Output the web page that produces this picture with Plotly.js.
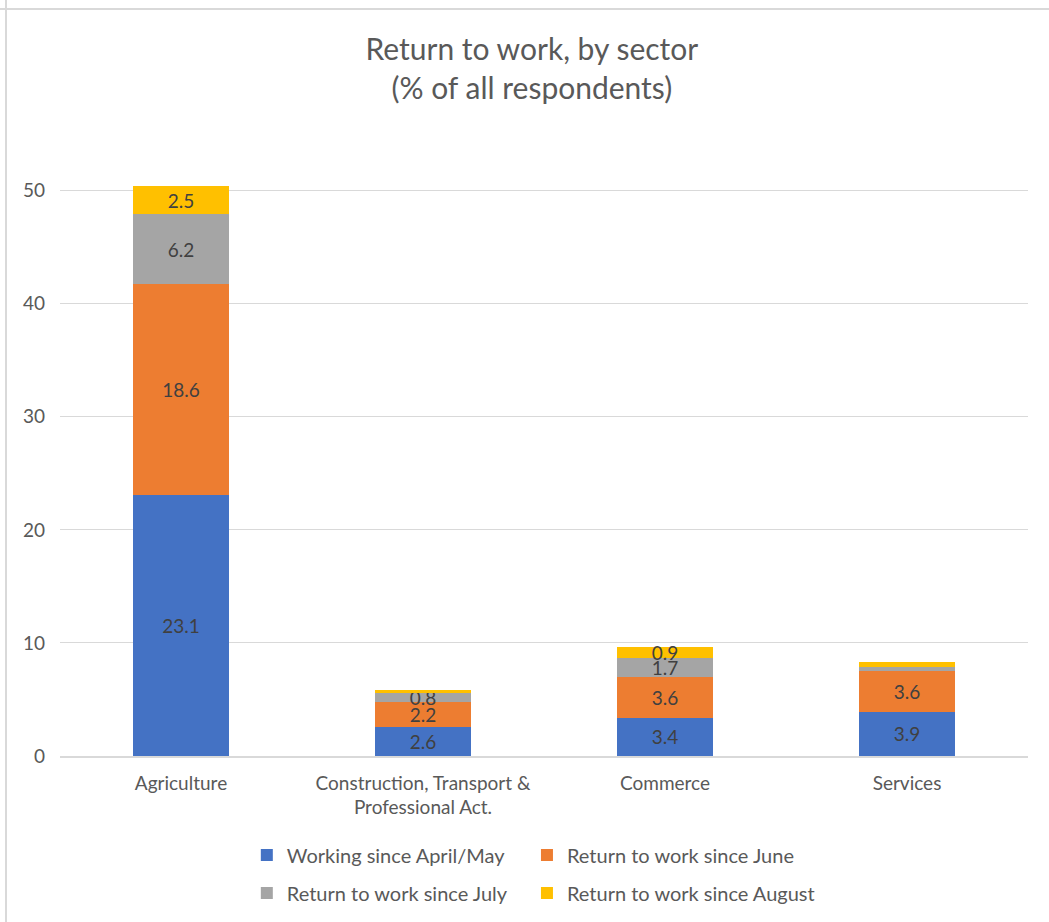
<!DOCTYPE html>
<html>
<head>
<meta charset="utf-8">
<script src="https://cdn.plot.ly/plotly-3.0.1.min.js"></script>
<style>html,body{margin:0;padding:0;background:#fff;}#chart{width:1049px;height:922px;}</style>
</head>
<body>
<div id="chart"></div>
<script>
const categories = ["Agriculture", "Construction, Transport &<br>Professional Act.", "Commerce", "Services"];
const seriesNames = ["Working since April/May", "Return to work since June", "Return to work since July", "Return to work since August"];
const working = [23.1, 2.6, 3.4, 3.9];
const june = [18.6, 2.2, 3.6, 3.6];
const july = [6.2, 0.8, 1.7, 0.4];
const august = [2.5, 0.2, 0.9, 0.4];
const showLabel = [
  [true, true, true, true],
  [true, true, true, true],
  [true, true, true, false],
  [true, false, true, false]
];
const colors = ["#4472C4", "#ED7D31", "#A5A5A5", "#FFC000"];
const tickVals = [0, 10, 20, 30, 40, 50];

const font = "Lato, 'Open Sans', sans-serif";
const series = [working, june, july, august];
const legendIds = ["legend", "legend2", "legend3", "legend4"];
const traces = series.map((vals, i) => ({
  type: "bar",
  name: seriesNames[i],
  x: categories,
  y: vals,
  marker: {color: colors[i]},
  text: vals.map((v, j) => showLabel[i][j] ? v.toFixed(1) : ""),
  textposition: "inside",
  insidetextanchor: "middle",
  textangle: 0,
  constraintext: "none",
  cliponaxis: false,
  textfont: {family: font, size: 19, color: "#404040"},
  hoverinfo: "name+y",
  legend: legendIds[i],
  width: 0.4
}));

const legendCommon = {
  orientation: "h", xanchor: "left", yanchor: "middle", yref: "container",
  font: {family: font, size: 20, color: "#595959"},
  itemwidth: 30, traceorder: "normal",
  bgcolor: "rgba(0,0,0,0)"
};
const col1 = 0.193, col2 = 0.4824;
const row1 = 1 - 855 / 922, row2 = 1 - 893 / 922;

const layout = {
  width: 1049, height: 922,
  margin: {l: 60, r: 21, t: 168, b: 166},
  paper_bgcolor: "#fff", plot_bgcolor: "#fff",
  barmode: "stack",
  bargap: 0.6,
  font: {family: font, color: "#595959"},
  title: {
    text: "Return to work, by sector<br>(% of all respondents)",
    font: {family: font, size: 30, color: "#595959"},
    x: 0.507, xanchor: "center", xref: "container",
    y: 0.935, yanchor: "top", yref: "container"
  },
  xaxis: {
    showgrid: false, zeroline: false, showline: true,
    linecolor: "#d9d9d9", linewidth: 1.5,
    tickfont: {family: font, size: 19, color: "#595959"},
    ticks: "", ticklen: 0, ticklabelstandoff: 9
  },
  yaxis: {
    range: [0, 52],
    tickvals: tickVals,
    ticktext: tickVals.map(String),
    showgrid: true, gridcolor: "#d9d9d9", gridwidth: 1.3,
    zeroline: false, showline: false,
    tickfont: {family: font, size: 19, color: "#595959"},
    ticks: "", ticklabelstandoff: 14
  },
  legend: Object.assign({}, legendCommon, {x: col1, y: row1}),
  legend2: Object.assign({}, legendCommon, {x: col2, y: row1}),
  legend3: Object.assign({}, legendCommon, {x: col1, y: row2}),
  legend4: Object.assign({}, legendCommon, {x: col2, y: row2}),
  showlegend: true,
  shapes: [
    {type: "line", xref: "paper", yref: "paper", x0: (6 - 60) / 968, x1: (6 - 60) / 968, y0: -2, y1: 2, line: {color: "#d9d9d9", width: 2}},
    {type: "line", xref: "paper", yref: "paper", x0: -1, x1: 2, y0: (756 - 9) / 588, y1: (756 - 9) / 588, line: {color: "#d9d9d9", width: 2}}
  ]
};

Plotly.newPlot("chart", traces, layout, {displayModeBar: false, responsive: false});
</script>
</body>
</html>
